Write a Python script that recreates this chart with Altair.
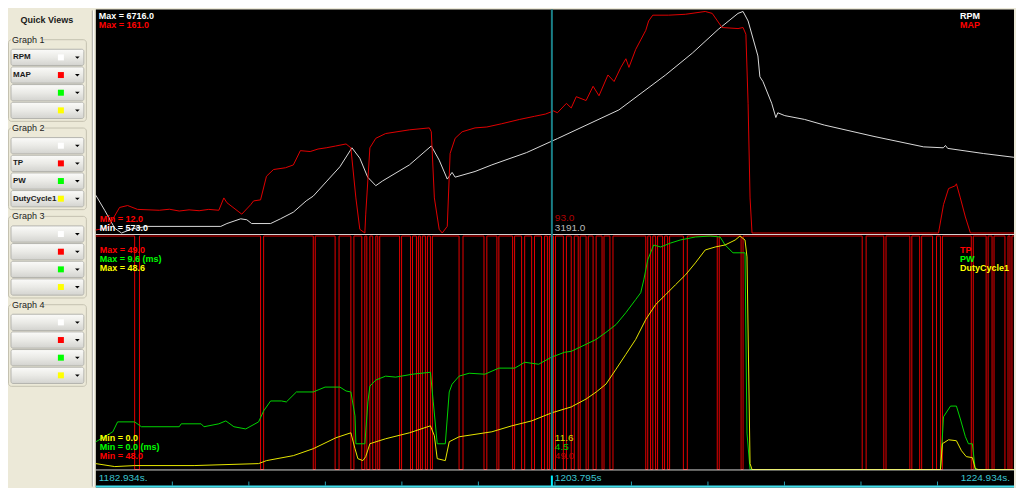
import altair as alt
import pandas as pd

# ---------------- data ----------------
T_START = 1182.934
T_END = 1224.934
CURSOR_T = 1203.795

rpm_time = [1182.93, 1183.34, 1183.80, 1184.11, 1184.60,
            1185.29, 1188.65, 1188.93, 1189.56, 1189.84,
            1190.06, 1190.93, 1191.38, 1191.97, 1192.56,
            1192.88, 1193.47, 1194.10, 1194.65, 1195.01,
            1195.37, 1195.74, 1196.05, 1197.28, 1198.28,
            1198.64, 1199.01, 1199.23, 1199.37, 1200.28,
            1201.05, 1202.64, 1204.05, 1206.86, 1209.00,
            1210.22, 1211.40, 1212.31, 1212.54, 1212.77,
            1213.22, 1213.31, 1213.45, 1213.85, 1214.04,
            1214.13, 1214.45, 1215.35, 1216.26, 1218.53,
            1220.80, 1221.70, 1221.80, 1221.90, 1223.53,
            1224.93]
rpm_value = [1623, 1203, 704, 573, 690,
             757, 757, 836, 967, 941,
             836, 836, 967, 1151, 1466,
             1597, 1991, 2411, 2936, 2647,
             2122, 1886, 2017, 2463, 2988,
             2594, 2069, 2253, 2122, 2279,
             2463, 2804, 3191, 3986, 4957,
             5561, 6217, 6663, 6716, 6453,
             5482, 4905, 4773, 4170, 3776,
             3907, 3828, 3723, 3566, 3251,
             2962, 2936, 3000, 2920, 2778,
             2673]

map_time = [1182.93, 1183.48, 1184.02, 1184.39, 1184.84,
            1185.84, 1186.30, 1186.75, 1187.20, 1187.66,
            1188.10, 1188.56, 1188.79, 1188.93, 1189.61,
            1190.02, 1190.15, 1190.47, 1190.74, 1191.06,
            1191.61, 1191.97, 1192.29, 1192.74, 1193.10,
            1193.47, 1193.90, 1194.38, 1194.60, 1194.83,
            1195.01, 1195.24, 1195.28, 1195.47, 1195.74,
            1196.19, 1197.28, 1198.19, 1198.28, 1198.42,
            1198.64, 1198.78, 1199.01, 1199.14, 1199.37,
            1199.69, 1200.28, 1200.82, 1201.50, 1202.32,
            1203.00, 1203.50, 1203.87, 1204.05, 1204.46,
            1204.68, 1204.91, 1205.36, 1205.68, 1205.95,
            1206.36, 1206.64, 1206.95, 1207.18, 1207.32,
            1207.63, 1207.86, 1208.09, 1208.22, 1208.41,
            1209.13, 1209.90, 1210.81, 1211.13, 1211.58,
            1212.31, 1212.54, 1212.67, 1212.77, 1212.86,
            1212.95, 1221.48, 1221.71, 1221.94, 1222.25,
            1222.30, 1222.48, 1222.71, 1222.94, 1224.93]
map_value = [14.0, 15.5, 29.2, 30.5, 27.9,
             27.3, 28.0, 26.8, 27.6, 27.0,
             27.9, 27.3, 35.6, 32.4, 24.7,
             31.1, 33.6, 34.3, 50.2, 54.7,
             55.9, 57.8, 67.4, 66.8, 68.5,
             69.3, 70.5, 71.9, 69.3, 35.6,
             14.5, 12.0, 24.7, 69.3, 75.7,
             78.9, 81.4, 82.7, 80.1, 35.6,
             14.5, 12.0, 16.5, 65.5, 75.7,
             80.1, 82.7, 83.3, 85.5, 88.4,
             90.5, 92.0, 94.1, 92.9, 99.2,
             96.1, 103.7, 101.1, 110.7, 104.3,
             118.3, 113.9, 123.4, 129.2, 123.4,
             135.5, 141.9, 148.3, 154.6, 158.5,
             158.5, 159.1, 161.0, 159.7, 150.2,
             149.5, 150.2, 145.7, 99.2, 35.6,
             12.0, 12.0, 31.1, 41.9, 43.8,
             45.1, 35.6, 22.8, 12.0, 12.0]

pw_time = [1182.93, 1183.71, 1183.93, 1184.71, 1185.02,
           1186.75, 1186.84, 1187.75, 1187.88, 1188.56,
           1188.88, 1189.25, 1189.79, 1190.38, 1190.61,
           1190.93, 1191.43, 1191.65, 1192.11, 1192.88,
           1193.42, 1194.10, 1194.38, 1194.60, 1194.79,
           1194.83, 1195.24, 1195.38, 1195.47, 1195.74,
           1196.19, 1196.65, 1197.42, 1198.24, 1198.37,
           1198.55, 1198.92, 1199.10, 1199.23, 1199.55,
           1200.01, 1200.73, 1201.37, 1202.10, 1202.55,
           1203.19, 1203.78, 1204.37, 1204.68, 1205.36,
           1205.82, 1206.27, 1206.73, 1207.18, 1207.63,
           1207.86, 1208.00, 1208.18, 1208.45, 1208.77,
           1209.22, 1209.68, 1210.36, 1211.04, 1211.49,
           1211.72, 1212.08, 1212.40, 1212.63, 1212.72,
           1212.86, 1221.57, 1221.71, 1222.03, 1222.30,
           1222.48, 1222.71, 1222.85, 1223.03, 1223.16,
           1224.93]
pw_value = [1.14, 1.55, 1.96, 1.96, 1.76,
            1.76, 1.88, 1.88, 1.76, 1.88,
            2.00, 1.76, 1.67, 1.96, 2.41,
            2.82, 2.82, 2.78, 3.19, 3.19,
            3.39, 3.39, 3.23, 3.19, 2.21,
            1.06, 1.06, 2.78, 3.43, 3.68,
            3.84, 3.80, 3.92, 4.00, 2.78,
            1.06, 1.06, 3.19, 3.51, 3.84,
            3.96, 3.92, 4.17, 4.17, 4.41,
            4.33, 4.62, 4.82, 4.86, 5.15,
            5.35, 5.64, 5.96, 6.45, 6.99,
            7.27, 7.80, 8.62, 9.23, 9.15,
            9.31, 9.44, 9.56, 9.60, 9.56,
            9.23, 8.91, 8.91, 8.91, 1.50,
            0.0, 0.0, 2.17, 2.61, 2.61,
            2.08, 1.35, 1.06, 1.06, 0.0,
            0.0]

dc_time = [1182.93, 1183.80, 1184.71, 1187.43, 1190.38,
           1190.74, 1191.97, 1192.88, 1193.92, 1194.60,
           1194.79, 1194.92, 1195.15, 1195.28, 1195.47,
           1196.19, 1197.28, 1198.24, 1198.42, 1198.55,
           1198.92, 1199.10, 1199.55, 1201.05, 1201.96,
           1202.87, 1203.78, 1204.68, 1205.36, 1205.82,
           1206.27, 1206.73, 1207.18, 1207.63, 1208.09,
           1208.54, 1209.00, 1209.45, 1209.91, 1210.36,
           1210.81, 1211.27, 1211.72, 1212.18, 1212.40,
           1212.63, 1212.72, 1212.86, 1212.95, 1221.57,
           1221.66, 1221.94, 1222.30, 1222.53, 1222.75,
           1223.03, 1223.16, 1223.30, 1224.93]
dc_value = [1.24, 0.62, 0.83, 0.83, 1.24,
            1.86, 2.90, 4.34, 6.62, 7.65,
            4.34, 2.27, 1.86, 2.69, 5.38,
            6.41, 7.65, 9.10, 7.03, 2.27,
            1.86, 5.79, 6.82, 7.86, 9.10,
            10.13, 11.79, 13.03, 14.68, 16.13,
            17.78, 20.89, 23.99, 27.09, 31.23,
            34.33, 36.40, 38.46, 40.53, 43.01,
            45.70, 46.32, 46.74, 47.77, 48.60,
            47.77, 44.26, 1.24, 0.0, 0.0,
            5.38, 6.20, 6.00, 3.93, 2.69,
            2.48, 0.21, 0.0, 0.0]

# TP sits at 49 and drops to 48 between each start/end pair
tp_drop_start = [1184.71, 1190.47, 1192.88, 1193.88, 1194.60, 1195.10, 1195.33, 1195.60, 1195.83, 1196.83,
                 1197.33, 1197.60, 1197.78, 1198.01, 1198.24, 1199.55, 1200.69, 1201.28, 1202.00, 1202.41,
                 1202.87, 1203.32, 1203.59, 1203.87, 1204.32, 1204.68, 1205.00, 1205.36, 1205.68, 1206.09,
                 1206.45, 1208.09, 1208.31, 1208.54, 1208.86, 1209.09, 1209.81, 1211.36, 1212.45, 1217.99,
                 1218.98, 1220.17, 1220.62, 1221.21, 1221.57, 1222.98, 1223.66, 1223.93, 1224.52, 1224.75]
tp_drop_end = [1184.93, 1190.61, 1192.97, 1194.06, 1194.74, 1195.24, 1195.47, 1195.74, 1195.92, 1196.92,
               1197.42, 1197.69, 1197.87, 1198.10, 1198.33, 1199.73, 1200.82, 1201.37, 1202.09, 1202.55,
               1203.00, 1203.46, 1203.68, 1203.96, 1204.46, 1204.82, 1205.09, 1205.46, 1205.82, 1206.18,
               1206.59, 1208.18, 1208.41, 1208.63, 1208.95, 1209.18, 1209.99, 1211.45, 1212.54, 1218.17,
               1219.08, 1220.26, 1220.71, 1221.39, 1221.66, 1223.07, 1223.75, 1224.02, 1224.66, 1224.84]
TP_HIGH, TP_LOW = 49.0, 48.0

tick_times = [1186.434, 1189.934, 1193.434, 1196.934, 1200.434, 1203.934,
              1207.434, 1210.934, 1214.434, 1217.934, 1221.434]
time_labels = ["1182.934s.", "1203.795s", "1224.934s."]

top_names = ["RPM", "MAP"]
top_max_labels = ["Max = 6716.0", "Max = 161.0"]
top_min_labels = ["Min = 12.0", "Min = 573.0"]
top_cursor_values = ["93.0", "3191.0"]
bot_names = ["TP", "PW", "DutyCycle1"]
bot_max_labels = ["Max = 49.0", "Max = 9.6 (ms)", "Max = 48.6"]
bot_min_labels = ["Min = 0.0", "Min = 0.0 (ms)", "Min = 48.0"]
bot_cursor_values = ["11.6", "4.5", "49.0"]

panel_title = "Quick Views"
graph_names = ["Graph 1", "Graph 2", "Graph 3", "Graph 4"]
slot_labels = [["RPM", "MAP", "", ""],
               ["", "TP", "PW", "DutyCycle1"],
               ["", "", "", ""],
               ["", "", "", ""]]
slot_swatches = ["white", "red", "green", "yellow"]

# ---------------- styles ----------------
FONT = "Liberation Sans"
BEIGE = "#ECE9D8"
RPM_C, MAP_C = "#DADADA", "#E00000"
TP_C, PW_C, DC_C = "#E60000", "#00D400", "#E6E600"
CUR_C = "#1A7F87"
CYAN = "#3CC4D0"

W = 920
H_TOP, H_BOT, H_STRIP = 226, 236, 17
LEFT_W, TOTAL_H = 88, 479

xscale = alt.Scale(domain=[T_START, T_END], nice=False, zero=False)
X = alt.X("t:Q", scale=xscale, axis=None)


def one():
    return pd.DataFrame({"k": [0]})


def bg(h):
    return alt.Chart(one()).mark_rect(fill="black").encode(
        x=alt.value(0), x2=alt.value(W), y=alt.value(0), y2=alt.value(h))


def hrule(y, color, width=1):
    return alt.Chart(one()).mark_rule(color=color, strokeWidth=width).encode(
        x=alt.value(0), x2=alt.value(W), y=alt.value(y))


def label(text, color, x, y, align="left", weight="bold", size=9):
    return alt.Chart(pd.DataFrame({"s": [text]})).mark_text(
        align=align, baseline="middle", font=FONT, fontSize=size,
        fontWeight=weight, color=color).encode(text="s:N", x=alt.value(x), y=alt.value(y))


def cursor_label(text, color, y, size=10):
    return alt.Chart(pd.DataFrame({"s": [text], "t": [CURSOR_T]})).mark_text(
        align="left", baseline="middle", font=FONT, fontSize=size, color=color, dx=3
    ).encode(text="s:N", x=X, y=alt.value(y))


def series(times, values, color, domain, pad, interp="linear"):
    df = pd.DataFrame({"t": times, "v": values})
    return alt.Chart(df).mark_line(color=color, strokeWidth=1, interpolate=interp).encode(
        x=X,
        y=alt.Y("v:Q", scale=alt.Scale(domain=domain, nice=False, zero=False, padding=pad), axis=None))


cursor_rule = alt.Chart(pd.DataFrame({"t": [CURSOR_T]})).mark_rule(
    color=CUR_C, strokeWidth=2).encode(x=X)

# ---------------- top panel ----------------
LEG_X = 866
top = alt.layer(
    bg(H_TOP),
    series(rpm_time, rpm_value, RPM_C, [573, 6716], 2),
    series(map_time, map_value, MAP_C, [12, 161], 2),
    hrule(H_TOP - 0.5, "#D8D8D8"),
    cursor_rule,
    label(top_max_labels[0], "#FFFFFF", 3, 7),
    label(top_max_labels[1], "#FF0000", 3, 16),
    label(top_names[0], "#FFFFFF", LEG_X, 7),
    label(top_names[1], "#FF0000", LEG_X, 16),
    label(top_min_labels[0], "#FF0000", 4, 210),
    label(top_min_labels[1], "#FFFFFF", 4, 219),
    cursor_label(top_cursor_values[0], "#B00000", 209),
    cursor_label(top_cursor_values[1], "#BBBBBB", 219),
).resolve_scale(y="independent").properties(width=W, height=H_TOP)

# ---------------- bottom panel ----------------
tp_t, tp_v = [T_START], [TP_HIGH]
for a, b in zip(tp_drop_start, tp_drop_end):
    tp_t += [a, b]
    tp_v += [TP_LOW, TP_HIGH]
tp_t.append(T_END)
tp_v.append(TP_HIGH)

bottom = alt.layer(
    bg(H_BOT),
    series(tp_t, tp_v, TP_C, [48, 49], 1, interp="step-after"),
    series(pw_time, pw_value, PW_C, [0, 9.6], 1),
    series(dc_time, dc_value, DC_C, [0, 48.6], 1),
    hrule(H_BOT - 0.5, "#FFFFFF"),
    cursor_rule,
    label(bot_max_labels[0], "#FF0000", 4, 15),
    label(bot_max_labels[1], "#00FF00", 4, 24),
    label(bot_max_labels[2], "#FFFF00", 4, 33),
    label(bot_names[0], "#FF0000", LEG_X, 15),
    label(bot_names[1], "#00FF00", LEG_X, 24),
    label(bot_names[2], "#FFFF00", LEG_X, 33),
    label(bot_min_labels[0], "#FFFF00", 4, 203),
    label(bot_min_labels[1], "#00FF00", 4, 212),
    label(bot_min_labels[2], "#FF0000", 4, 221),
    cursor_label(bot_cursor_values[0], "#DCDC00", 203),
    cursor_label(bot_cursor_values[1], "#00C800", 212),
    cursor_label(bot_cursor_values[2], "#C00000", 221),
).resolve_scale(y="independent").properties(width=W, height=H_BOT)

# ---------------- time strip ----------------
ticks = alt.Chart(pd.DataFrame({"t": tick_times})).mark_rule(
    color="#2A9EAE", strokeWidth=1).encode(x=X, y=alt.value(11), y2=alt.value(15))
cursor_tick = alt.Chart(pd.DataFrame({"t": [CURSOR_T]})).mark_rule(
    color="#00F0FF", strokeWidth=2).encode(x=X, y=alt.value(5), y2=alt.value(16))
lab_left = alt.Chart(pd.DataFrame({"s": [time_labels[0]], "t": [T_START]})).mark_text(
    align="left", baseline="middle", font=FONT, fontSize=10, color=CYAN, dx=3
).encode(text="s:N", x=X, y=alt.value(7))
lab_mid = alt.Chart(pd.DataFrame({"s": [time_labels[1]], "t": [CURSOR_T]})).mark_text(
    align="left", baseline="middle", font=FONT, fontSize=10, color=CYAN, dx=3
).encode(text="s:N", x=X, y=alt.value(7))
lab_right = alt.Chart(pd.DataFrame({"s": [time_labels[2]], "t": [T_END]})).mark_text(
    align="right", baseline="middle", font=FONT, fontSize=10, color=CYAN, dx=-4
).encode(text="s:N", x=X, y=alt.value(7))

strip = alt.layer(
    bg(H_STRIP),
    ticks,
    cursor_tick,
    hrule(16, "#40E0F0", 2),
    lab_left, lab_mid, lab_right,
).properties(width=W, height=H_STRIP)

# ---------------- left "Quick Views" panel ----------------
slot_rows = []
for g, name in enumerate(graph_names):
    for s in range(4):
        slot_rows.append({"g": g, "s": s, "label": slot_labels[g][s], "swatch": slot_swatches[s]})
slots = pd.DataFrame(slot_rows)
groups = pd.DataFrame({"g": list(range(len(graph_names))), "name": graph_names})

row_scale = alt.Scale(domain=[-1.712, 25.35], reverse=True, nice=False, zero=False)


def RY(field):
    return alt.Y(field, type="quantitative", scale=row_scale, axis=None)


fieldsets = alt.Chart(groups).transform_calculate(
    top="5*datum.g", bot="5*datum.g+4.62"
).mark_rect(fill="transparent", stroke="#C4C1B0", strokeWidth=1, cornerRadius=3).encode(
    x=alt.value(0.5), x2=alt.value(78.5), y=RY("top"), y2="bot:Q")

header_bg = alt.Chart(groups).transform_calculate(
    a="5*datum.g-0.3", b="5*datum.g+0.3"
).mark_rect(fill=BEIGE).encode(x=alt.value(3), x2=alt.value(35), y=RY("a"), y2="b:Q")

header_txt = alt.Chart(groups).transform_calculate(
    r="5*datum.g"
).mark_text(align="left", baseline="middle", font=FONT, fontSize=9, color="#222222").encode(
    x=alt.value(4), y=RY("r"), text="name:N")

btn_grad = alt.LinearGradient(
    gradient="linear",
    stops=[alt.GradientStop(color="#FBFBF9", offset=0),
           alt.GradientStop(color="#EAEAE6", offset=0.5),
           alt.GradientStop(color="#D3D3CF", offset=1)],
    x1=0, x2=0, y1=0, y2=1)

buttons = alt.Chart(slots).transform_calculate(
    r0="5*datum.g+datum.s+1-0.46", r1="5*datum.g+datum.s+1+0.46"
).mark_rect(fill=btn_grad, stroke="#B4B4AE", strokeWidth=1, cornerRadius=2).encode(
    x=alt.value(3), x2=alt.value(76), y=RY("r0"), y2="r1:Q")

btn_text = alt.Chart(slots).transform_calculate(
    r="5*datum.g+datum.s+1"
).mark_text(align="left", baseline="middle", font=FONT, fontSize=8, fontWeight="bold",
            color="#1A1A1A").encode(x=alt.value(5), y=RY("r"), text="label:N")

swatches = alt.Chart(slots).transform_calculate(
    r="5*datum.g+datum.s+1"
).mark_square(size=36, filled=True, opacity=1).encode(
    x=alt.value(53), y=RY("r"),
    color=alt.Color("swatch:N", legend=None,
                    scale=alt.Scale(domain=["white", "red", "green", "yellow"],
                                    range=["#FFFFFF", "#FF0000", "#00FF00", "#FFFF00"])))

arrows = alt.Chart(slots).transform_calculate(
    r="5*datum.g+datum.s+1"
).mark_point(shape="M-1,-0.4L1,-0.4L0,0.6Z", size=22, filled=True, color="#000000", opacity=1).encode(
    x=alt.value(69.5), y=RY("r"))

sep_dark = alt.Chart(one()).mark_rule(color="#9C9C94", strokeWidth=1).encode(
    x=alt.value(84.5), y=alt.value(1), y2=alt.value(TOTAL_H - 1))
sep_light = alt.Chart(one()).mark_rule(color="#FFFFFF", strokeWidth=1).encode(
    x=alt.value(85.5), y=alt.value(1), y2=alt.value(TOTAL_H - 1))

title_txt = alt.Chart(pd.DataFrame({"s": [panel_title]})).mark_text(
    align="center", baseline="middle", font=FONT, fontSize=9, fontWeight="bold", color="#1A1A1A"
).encode(text="s:N", x=alt.value(39), y=alt.value(11))

left = alt.layer(
    fieldsets, header_bg, header_txt, buttons, btn_text, swatches, arrows,
    sep_dark, sep_light, title_txt
).properties(width=LEFT_W, height=TOTAL_H)

right = alt.vconcat(top, bottom, strip, spacing=0, bounds="flush")

chart = alt.hconcat(left, right, spacing=0, bounds="flush").properties(
    padding=0, background=BEIGE
).configure_view(strokeWidth=0)

chart.save("out.html", embed_options={"renderer": "svg", "actions": False})
